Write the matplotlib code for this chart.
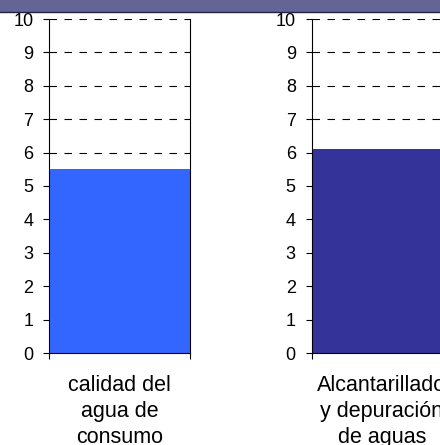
import matplotlib.pyplot as plt
from matplotlib.patches import Rectangle

categories = ['calidad del\nagua de\nconsumo', 'Alcantarillado\ny depuración\nde aguas']
values = [5.5, 6.1]
colors = ['#3366FF', '#333399']
yticks = list(range(0, 11))

plt.rcParams['font.family'] = ['Liberation Sans', 'DejaVu Sans']

fig = plt.figure(figsize=(4.4, 4.45), dpi=100)

# purple band at top of the slide
fig.patches.append(Rectangle((0, 1 - 12 / 445), 1, 12 / 445, transform=fig.transFigure,
                             facecolor='#646496', edgecolor='none', zorder=0))
fig.lines.append(plt.Line2D([0, 1], [1 - 12 / 445, 1 - 12 / 445], transform=fig.transFigure,
                            color='#222244', lw=1))

lefts = [49 / 440, 311.5 / 440]
for i in range(2):
    ax = fig.add_axes([lefts[i], 92 / 445, 141 / 440, 334 / 445])
    ax.bar([0], [values[i]], width=1, color=colors[i], zorder=2)
    ax.set_xlim(-0.5, 0.5)
    ax.set_ylim(0, 10)
    ax.set_yticks(yticks)
    ax.tick_params(axis='y', length=4.3, width=0.8, labelsize=13, pad=7)
    ax.set_xticks([0])
    ax.set_xticklabels([categories[i]], fontsize=15.5, linespacing=1.3)
    ax.tick_params(axis='x', which='major', length=0, pad=16)
    ax.set_xticks([-0.5, 0.5], minor=True)
    ax.tick_params(axis='x', which='minor', length=4, width=0.8)
    for y in yticks[1:]:
        ax.axhline(y, color='black', lw=0.8, ls=(0, (6.75, 6.75)), zorder=1)
    ax.spines['top'].set_visible(False)
    ax.spines['right'].set_linewidth(0.8)
    ax.spines['left'].set_linewidth(0.8)
    ax.spines['bottom'].set_linewidth(0.8)

fig.savefig('out.png', dpi=100)
